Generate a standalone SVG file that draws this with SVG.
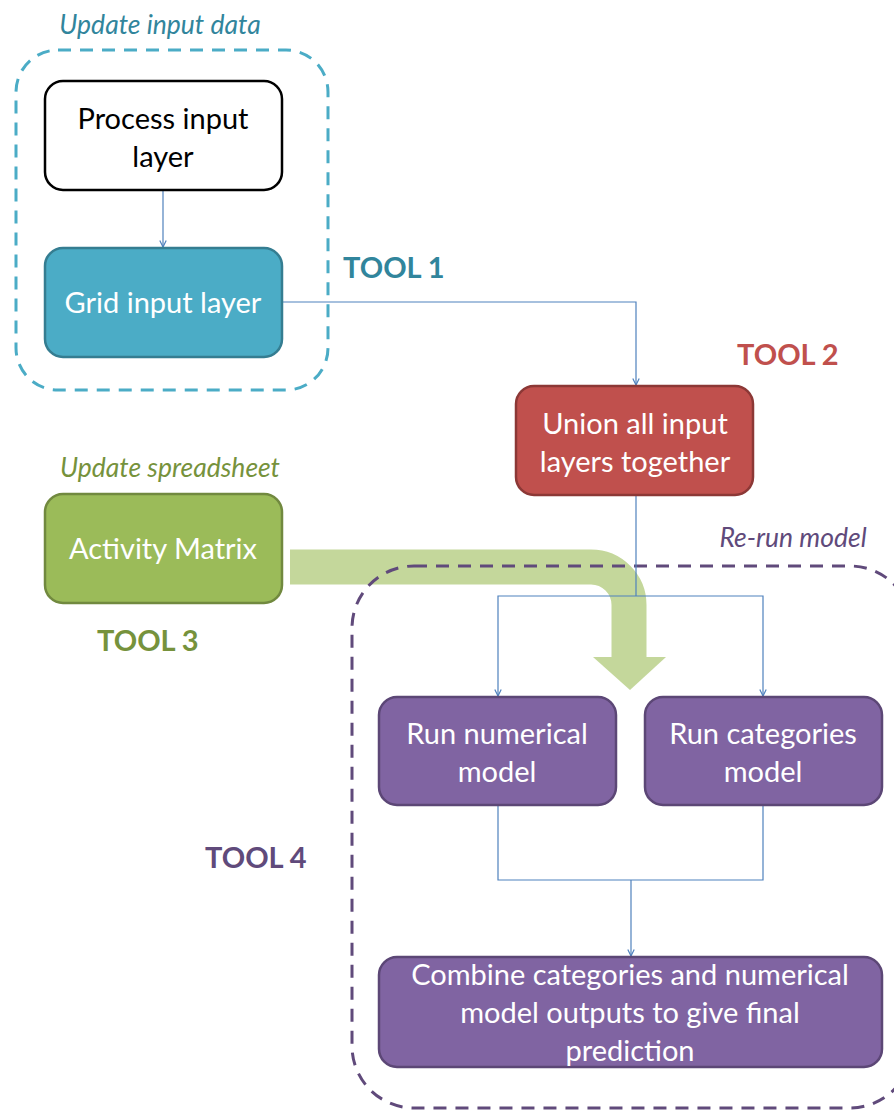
<svg xmlns="http://www.w3.org/2000/svg" width="894" height="1113" viewBox="0 0 894 1113">
  <defs>
    <marker id="tip" viewBox="0 0 10 10" refX="9" refY="5" markerWidth="8" markerHeight="8" markerUnits="userSpaceOnUse" orient="auto">
      <path d="M1,1 L9,5 L1,9" fill="none" stroke="#4f81bd" stroke-width="1.5"/>
    </marker>
    <style>
      .lbl { font-family: Lato, "Open Sans", sans-serif; font-size: 29px; text-anchor: middle; }
      .wt { fill: #ffffff; }
      .note { font-family: Lato, "Open Sans", sans-serif; font-style: italic; font-size: 26.5px; text-anchor: middle; }
      .tool { font-family: Lato, "Open Sans", sans-serif; font-weight: bold; font-size: 29px; }
      .wire { fill: none; stroke: #4f81bd; stroke-width: 1.2; }
      .frame { fill: none; stroke-width: 3; stroke-dasharray: 13 9; }
    </style>
  </defs>

  <!-- broad arrow from the activity matrix into the models -->
  <g id="matrix-feed">
    <path d="M290,567 H591 A38,38 0 0 1 629,605 V658" fill="none" stroke="#c4d79b" stroke-width="35"/>
    <polygon points="593,657 666,657 630,690" fill="#c4d79b"/>
  </g>

  <!-- group frames -->
  <g id="frame-input">
    <rect class="frame" x="16" y="50" width="312" height="340" rx="42" stroke="#4bacc6"/>
    <text class="note" x="160" y="34" fill="#31859c">Update input data</text>
  </g>
  <g id="frame-rerun">
    <rect class="frame" x="352" y="566" width="560" height="542" rx="62" stroke="#604a7b"/>
    <text class="note" x="793" y="547" fill="#604a7b">Re-run model</text>
  </g>

  <!-- connectors -->
  <g id="connectors">
    <path class="wire" d="M163,190 V247" marker-end="url(#tip)"/>
    <path class="wire" d="M282,302 H636 V385" marker-end="url(#tip)"/>
    <path class="wire" d="M636,495 V596"/>
    <path class="wire" d="M636,596 H498 V696" marker-end="url(#tip)"/>
    <path class="wire" d="M636,596 H763 V696" marker-end="url(#tip)"/>
    <path class="wire" d="M498,805 V880 H763 V805"/>
    <path class="wire" d="M631,880 V956" marker-end="url(#tip)"/>
  </g>

  <g id="process-input">
    <rect x="45" y="81" width="237" height="109" rx="18" fill="#ffffff" stroke="#000000" stroke-width="2.5"/>
    <text class="lbl" x="163" y="129" fill="#000000">Process input</text>
    <text class="lbl" x="163" y="167" fill="#000000">layer</text>
  </g>

  <g id="grid-input">
    <rect x="45" y="248" width="237" height="109" rx="18" fill="#4bacc6" stroke="#357d91" stroke-width="2.5"/>
    <text class="lbl wt" x="163" y="313">Grid input layer</text>
  </g>

  <g id="tool1"><text class="tool" x="343" y="278" fill="#31859c">TOOL 1</text></g>
  <g id="tool2"><text class="tool" x="737" y="365" fill="#c0504d">TOOL 2</text></g>

  <g id="union">
    <rect x="516" y="386" width="237" height="109" rx="18" fill="#c0504d" stroke="#8c3836" stroke-width="2.5"/>
    <text class="lbl wt" x="635" y="434">Union all input</text>
    <text class="lbl wt" x="635" y="472">layers together</text>
  </g>

  <g id="activity-matrix">
    <text class="note" x="170" y="477" fill="#76923c">Update spreadsheet</text>
    <rect x="45" y="494" width="237" height="109" rx="18" fill="#9bbb59" stroke="#71893f" stroke-width="2.5"/>
    <text class="lbl wt" x="163" y="559">Activity Matrix</text>
  </g>

  <g id="tool3"><text class="tool" x="97" y="651" fill="#76923c">TOOL 3</text></g>
  <g id="tool4"><text class="tool" x="205" y="868" fill="#604a7b">TOOL 4</text></g>

  <g id="run-numerical">
    <rect x="379" y="697" width="237" height="108" rx="18" fill="#8064a2" stroke="#5c4776" stroke-width="2.5"/>
    <text class="lbl wt" x="497" y="744">Run numerical</text>
    <text class="lbl wt" x="497" y="782">model</text>
  </g>

  <g id="run-categories">
    <rect x="645" y="697" width="237" height="108" rx="18" fill="#8064a2" stroke="#5c4776" stroke-width="2.5"/>
    <text class="lbl wt" x="763" y="744">Run categories</text>
    <text class="lbl wt" x="763" y="782">model</text>
  </g>

  <g id="combine">
    <rect x="379" y="957" width="503" height="110" rx="18" fill="#8064a2" stroke="#5c4776" stroke-width="2.5"/>
    <text class="lbl wt" x="630" y="985">Combine categories and numerical</text>
    <text class="lbl wt" x="630" y="1023">model outputs to give final</text>
    <text class="lbl wt" x="630" y="1061">prediction</text>
  </g>
</svg>
